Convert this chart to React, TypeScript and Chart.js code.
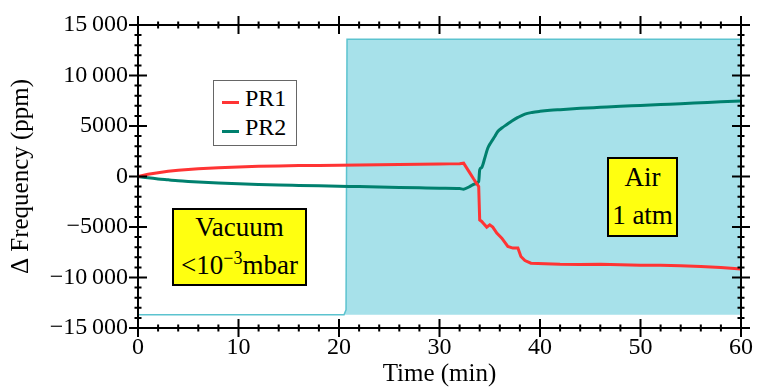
import React, { useEffect, useRef } from 'react';
import { Chart, registerables } from 'chart.js';

Chart.register(...registerables);

// Axis ticks and their printed labels
const X_TICKS = [0, 10, 20, 30, 40, 50, 60];
const X_TICK_LABELS = ['0', '10', '20', '30', '40', '50', '60'];
const Y_TICKS = [-15000, -10000, -5000, 0, 5000, 10000, 15000];
const Y_TICK_LABELS = ['\u221215\u2009000', '\u221210\u2009000', '\u22125000', '0', '5000', '10\u2009000', '15\u2009000'];

// PR1 resonator: frequency shift (ppm) against time (min)
const PR1_TIME = [0, 1, 2, 3, 4, 5, 6, 8, 10, 12, 14, 16, 18, 20, 22, 24, 26, 28, 30, 31, 32, 32.4, 33.0, 33.4, 33.7, 33.9, 34.0, 34.2, 34.4, 34.7, 35.0, 35.3, 35.7, 36.2, 36.8, 37.3, 37.8, 38.1, 38.5, 39.1, 40.5, 42, 44, 46, 48, 50, 52, 54, 56, 58, 60];
const PR1_PPM = [0, 220, 380, 510, 620, 700, 770, 870, 950, 1010, 1050, 1080, 1100, 1120, 1150, 1170, 1190, 1210, 1240, 1250, 1270, 1320, 380, -250, -700, -990, -4300, -4450, -4680, -5010, -4780, -5010, -5600, -6100, -6930, -7090, -7090, -7920, -8320, -8580, -8650, -8700, -8720, -8700, -8740, -8780, -8790, -8840, -8900, -9000, -9150];

// PR2 resonator: frequency shift (ppm) against time (min)
const PR2_TIME = [0, 1, 2, 3, 4, 5, 6, 8, 10, 12, 14, 16, 18, 20, 22, 24, 26, 28, 30, 32, 32.4, 33.0, 33.5, 33.9, 34.0, 34.2, 34.5, 34.8, 35.1, 35.5, 35.8, 36.2, 36.7, 37.2, 37.8, 38.5, 39.2, 40, 41, 42, 44, 46, 48, 50, 52, 54, 56, 58, 60];
const PR2_PPM = [0, -130, -240, -330, -420, -490, -550, -650, -730, -790, -840, -880, -920, -960, -1000, -1040, -1080, -1120, -1160, -1200, -1250, -1000, -750, -500, 660, 900, 1800, 2800, 3350, 3960, 4450, 4800, 5150, 5500, 5850, 6180, 6340, 6450, 6550, 6620, 6750, 6850, 6950, 7030, 7120, 7200, 7300, 7400, 7480];

// Chamber state trace (vacuum -> air), shaded down to its base level
const CHAMBER_TIME = [0, 20.5, 20.7, 20.8, 60];
const CHAMBER_LEVEL = [-13700, -13700, -13200, 13600, 13600];
const CHAMBER_BASE = -13700;

const X_MIN = 0, X_MAX = 60, X_MAJOR = 10, X_MINOR = 2;
const Y_MIN = -15000, Y_MAX = 15000, Y_MAJOR = 5000, Y_MINOR = 1000;

const RED = '#ff3434';
const TEAL = '#00806e';
const SERIF = "'Liberation Serif', 'Times New Roman', Times, serif";

const toPoints = (xs: number[], ys: number[]) => xs.map((x, i) => ({ x, y: ys[i] }));

// Closed frame with ticks crossing every side
const frameTicks = {
  id: 'frameTicks',
  afterDatasetsDraw(chart: any) {
    const { ctx, chartArea: a, scales } = chart;
    const xs = scales.x;
    const ys = scales.y;
    ctx.save();
    ctx.strokeStyle = '#000';
    ctx.lineWidth = 2;
    ctx.strokeRect(a.left, a.top, a.right - a.left, a.bottom - a.top);
    ctx.beginPath();
    for (let t = X_MIN; t <= X_MAX + 1e-9; t += X_MINOR) {
      const px = xs.getPixelForValue(t);
      const len = Math.abs(t % X_MAJOR) < 1e-9 ? 9 : 3.5;
      ctx.moveTo(px, a.bottom - len);
      ctx.lineTo(px, a.bottom + len);
      ctx.moveTo(px, a.top - len);
      ctx.lineTo(px, a.top + len);
    }
    for (let v = Y_MIN; v <= Y_MAX + 1e-9; v += Y_MINOR) {
      const py = ys.getPixelForValue(v);
      const len = Math.abs(v % Y_MAJOR) < 1e-9 ? 9 : 3.5;
      ctx.moveTo(a.left - len, py);
      ctx.lineTo(a.left + len, py);
      ctx.moveTo(a.right - len, py);
      ctx.lineTo(a.right + len, py);
    }
    ctx.stroke();
    ctx.restore();
  },
};

export default function App() {
  const canvasRef = useRef<HTMLCanvasElement | null>(null);

  useEffect(() => {
    const canvas = canvasRef.current;
    if (!canvas) return;
    const chart = new Chart(canvas, {
      type: 'line',
      data: {
        datasets: [
          {
            label: 'PR1',
            data: toPoints(PR1_TIME, PR1_PPM),
            borderColor: RED,
            borderWidth: 3,
            pointRadius: 0,
            fill: false,
            order: 1,
          },
          {
            label: 'PR2',
            data: toPoints(PR2_TIME, PR2_PPM),
            borderColor: TEAL,
            borderWidth: 3,
            pointRadius: 0,
            fill: false,
            cubicInterpolationMode: 'monotone',
            order: 2,
          },
          {
            label: 'chamber',
            data: toPoints(CHAMBER_TIME, CHAMBER_LEVEL),
            borderColor: '#5cc3cf',
            borderWidth: 1.5,
            backgroundColor: '#a7e1ea',
            pointRadius: 0,
            fill: { value: CHAMBER_BASE },
            order: 3,
          },
        ],
      },
      options: {
        animation: false,
        responsive: false,
        devicePixelRatio: 1,
        layout: { padding: { top: 25, right: 15, left: 0, bottom: 0 } },
        plugins: {
          legend: { display: false },
          tooltip: { enabled: false },
        },
        scales: {
          x: {
            type: 'linear',
            min: X_MIN,
            max: X_MAX,
            grid: { display: false, drawTicks: false },
            border: { display: false },
            afterBuildTicks: (s: any) => {
              s.ticks = X_TICKS.map((value) => ({ value }));
            },
            afterFit: (s: any) => {
              s.height = 61;
            },
            ticks: {
              autoSkip: false,
              maxRotation: 0,
              padding: 5,
              color: '#000',
              font: { family: SERIF, size: 24 },
              callback: (v: any) => X_TICK_LABELS[X_TICKS.indexOf(Number(v))] ?? '',
            },
            title: {
              display: true,
              text: 'Time (min)',
              color: '#000',
              font: { family: SERIF, size: 25 },
              padding: { top: 0, bottom: 0 },
            },
          },
          y: {
            type: 'linear',
            min: Y_MIN,
            max: Y_MAX,
            grid: { display: false, drawTicks: false },
            border: { display: false },
            afterBuildTicks: (s: any) => {
              s.ticks = Y_TICKS.map((value) => ({ value }));
            },
            afterFit: (s: any) => {
              s.width = 138;
            },
            ticks: {
              autoSkip: false,
              padding: 10,
              color: '#000',
              font: { family: SERIF, size: 24 },
              callback: (v: any) => Y_TICK_LABELS[Y_TICKS.indexOf(Number(v))] ?? '',
            },
            title: {
              display: true,
              text: '\u0394 Frequency (ppm)',
              color: '#000',
              font: { family: SERIF, size: 25 },
              padding: { top: 6, bottom: 0 },
            },
          },
        },
      },
      plugins: [frameTicks],
    });
    return () => chart.destroy();
  }, []);

  const text = (extra: React.CSSProperties): React.CSSProperties => ({
    position: 'absolute',
    fontFamily: SERIF,
    color: '#000',
    whiteSpace: 'nowrap',
    ...extra,
  });

  return (
    <div style={{ position: 'fixed', left: 0, top: 0, width: 758, height: 389, background: '#fff' }}>
      <canvas ref={canvasRef} width={758} height={389} style={{ position: 'absolute', left: 0, top: 0, width: 758, height: 389 }} />

      {/* legend */}
      <div style={{ position: 'absolute', left: 213, top: 80, width: 84, height: 66, boxSizing: 'border-box', border: '1px solid #666', background: '#fff' }} />
      <div style={{ position: 'absolute', left: 222, top: 100.5, width: 17, height: 3, background: RED }} />
      <div style={{ position: 'absolute', left: 222, top: 129.5, width: 17, height: 3, background: TEAL }} />
      <div style={text({ left: 245, top: 86, fontSize: 24, lineHeight: '24px' })}>PR1</div>
      <div style={text({ left: 245, top: 115, fontSize: 24, lineHeight: '24px' })}>PR2</div>

      {/* vacuum label */}
      <div style={{ position: 'absolute', left: 172, top: 208, width: 135, height: 78, boxSizing: 'border-box', border: '2px solid #000', background: '#ffff10' }} />
      <div style={text({ left: 172, width: 135, textAlign: 'center', top: 214.4, fontSize: 27, lineHeight: '27px' })}>Vacuum</div>
      <div style={text({ left: 172, width: 135, textAlign: 'center', top: 252.4, fontSize: 27, lineHeight: '27px' })}>
        &lt;10<span style={{ fontSize: 18, position: 'relative', top: -10 }}>{'\u22123'}</span>mbar
      </div>

      {/* air label */}
      <div style={{ position: 'absolute', left: 607, top: 157, width: 71, height: 80, boxSizing: 'border-box', border: '2px solid #000', background: '#ffff10' }} />
      <div style={text({ left: 607, width: 71, textAlign: 'center', top: 164.4, fontSize: 27, lineHeight: '27px' })}>Air</div>
      <div style={text({ left: 607, width: 71, textAlign: 'center', top: 202.4, fontSize: 27, lineHeight: '27px' })}>1 atm</div>
    </div>
  );
}
